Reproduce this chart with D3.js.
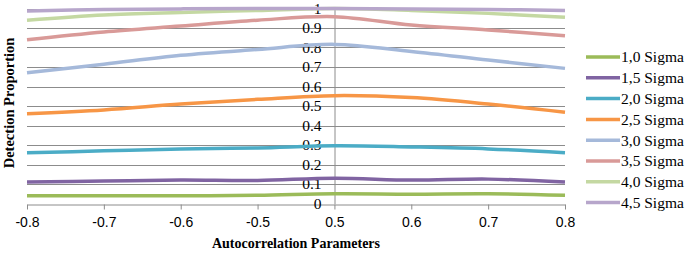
<!DOCTYPE html>
<html>
<head>
<meta charset="utf-8">
<script src="https://cdn.jsdelivr.net/npm/d3@7"></script>
<style>
  body { margin: 0; background: #fff; }
</style>
</head>
<body>
<svg id="chart" width="685" height="254"></svg>
<script>
const categories = ["-0.8", "-0.7", "-0.6", "-0.5", "0.5", "0.6", "0.7", "0.8"];
const seriesNames = ["1,0 Sigma", "1,5 Sigma", "2,0 Sigma", "2,5 Sigma", "3,0 Sigma", "3,5 Sigma", "4,0 Sigma", "4,5 Sigma"];
const sigma10 = [0.04, 0.04, 0.04, 0.042, 0.05, 0.048, 0.05, 0.042];
const sigma15 = [0.11, 0.115, 0.12, 0.118, 0.13, 0.12, 0.125, 0.11];
const sigma20 = [0.26, 0.27, 0.28, 0.285, 0.296, 0.29, 0.28, 0.26];
const sigma25 = [0.46, 0.48, 0.51, 0.534, 0.553, 0.543, 0.51, 0.468];
const sigma30 = [0.67, 0.714, 0.76, 0.79, 0.816, 0.78, 0.736, 0.693];
const sigma35 = [0.84, 0.88, 0.91, 0.94, 0.958, 0.915, 0.89, 0.86];
const sigma40 = [0.94, 0.967, 0.98, 0.99, 1.0, 0.99, 0.975, 0.955];
const sigma45 = [0.987, 0.995, 0.998, 1.0, 1.0, 0.998, 0.995, 0.99];
const yTicks = [0, 0.1, 0.2, 0.3, 0.4, 0.5, 0.6, 0.7, 0.8, 0.9, 1];
const colors = ["#9bbb59", "#8064a2", "#4bacc6", "#f79646", "#a5b9da", "#d99a98", "#c4d8a2", "#b7a6cb"];

(function () {
    const seriesValues = [sigma10, sigma15, sigma20, sigma25, sigma30, sigma35, sigma40, sigma45];
    const series = seriesNames.map((name, i) => ({name: name, values: seriesValues[i], color: colors[i]}));

    const svg = d3.select("#chart");
    const plot = {left: 27, right: 565, top: 8.5, bottom: 203.5};

    const x = d3.scalePoint().domain(categories).range([plot.left, plot.right]);
    const y = d3.scaleLinear().domain([0, 1]).range([plot.bottom, plot.top]);

    // gridlines
    svg.append("g")
        .selectAll("line")
        .data(yTicks.slice(1))
        .join("line")
        .attr("x1", plot.left).attr("x2", plot.right)
        .attr("y1", d => Math.round(y(d)) + 0.5).attr("y2", d => Math.round(y(d)) + 0.5)
        .attr("stroke", "#8c8c8c").attr("stroke-width", 1);

    // x axis at bottom
    const xAxis = svg.append("g")
        .attr("transform", `translate(0, ${Math.round(plot.bottom) + 0.5})`)
        .call(d3.axisBottom(x).tickSize(5).tickSizeOuter(0).tickPadding(8));
    xAxis.select(".domain").attr("stroke", "#8c8c8c");
    xAxis.selectAll(".tick line").attr("stroke", "#8c8c8c");
    xAxis.selectAll("text")
        .attr("font-family", "Liberation Sans, Arial, sans-serif")
        .attr("font-size", 14).attr("fill", "#000");

    // y axis crossing at 0.5
    const yAxis = svg.append("g")
        .attr("transform", `translate(${Math.round(x("0.5")) + 0.5}, 0)`)
        .call(d3.axisLeft(y).tickValues(yTicks).tickFormat(d3.format("")).tickSize(0).tickPadding(13));
    yAxis.select(".domain").attr("stroke", "#8c8c8c");
    yAxis.selectAll("text")
        .attr("font-family", "Liberation Serif, Times New Roman, serif")
        .attr("font-size", 15.5).attr("fill", "#000");

    // lines
    const line = d3.line()
        .x((d, i) => x(categories[i]))
        .y(d => y(d))
        .curve(d3.curveCatmullRom.alpha(0.5));

    svg.append("g")
        .selectAll("path")
        .data(series)
        .join("path")
        .attr("d", d => line(d.values))
        .attr("fill", "none")
        .attr("stroke", d => d.color)
        .attr("stroke-width", 3.5);

    // axis titles
    svg.append("text")
        .attr("transform", "translate(14, 103) rotate(-90)")
        .attr("text-anchor", "middle")
        .attr("font-family", "Liberation Serif, Times New Roman, serif")
        .attr("font-weight", "bold").attr("font-size", 14.5)
        .text("Detection Proportion");

    svg.append("text")
        .attr("x", 296).attr("y", 248)
        .attr("text-anchor", "middle")
        .attr("font-family", "Liberation Serif, Times New Roman, serif")
        .attr("font-weight", "bold").attr("font-size", 14)
        .text("Autocorrelation Parameters");

    // legend
    const legend = svg.append("g")
        .selectAll("g")
        .data(series)
        .join("g")
        .attr("transform", (d, i) => `translate(586, ${57 + i * 20.8})`);
    legend.append("line")
        .attr("x1", 0).attr("x2", 34)
        .attr("stroke", d => d.color).attr("stroke-width", 3.5);
    legend.append("text")
        .attr("x", 35).attr("dy", "0.35em")
        .attr("font-family", "Liberation Serif, Times New Roman, serif")
        .attr("font-size", 15.5)
        .text(d => d.name);
})();
</script>
</body>
</html>
